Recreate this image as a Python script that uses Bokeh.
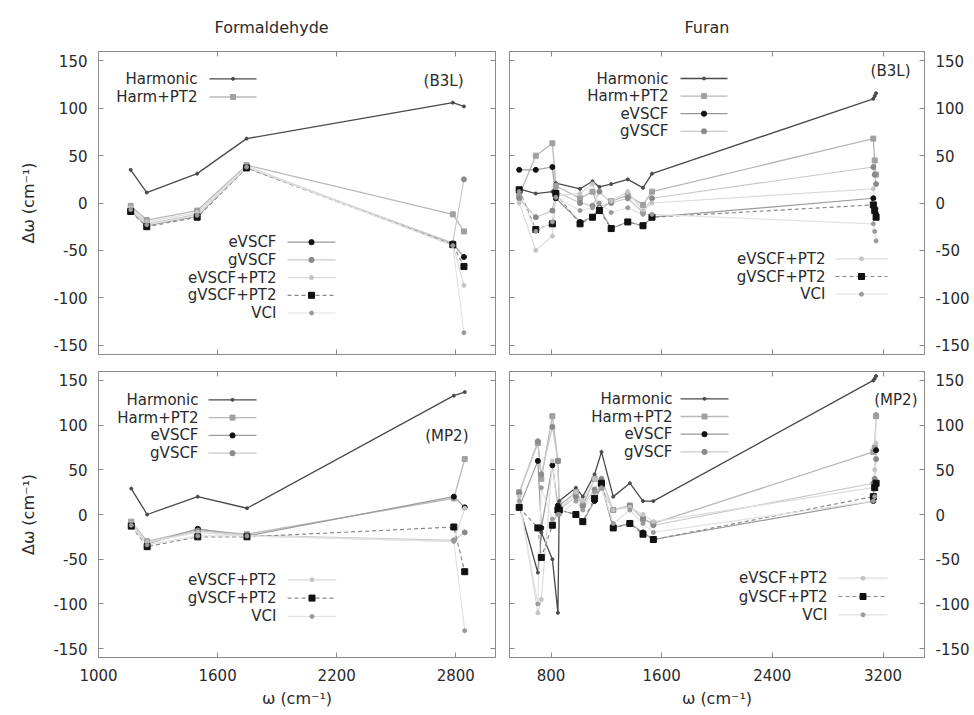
from bokeh.plotting import figure
from bokeh.layouts import column, row
from bokeh.models import Range1d, LinearAxis, FixedTicker, Label, Arrow, BoxAnnotation, Title
from bokeh.embed import file_html
from bokeh.resources import INLINE

FONT = "DejaVu Sans"
TXT = "#2a2a2a"
AX = "#8a8a8a"

methods = ["Harmonic", "Harm+PT2", "eVSCF", "gVSCF", "eVSCF+PT2", "gVSCF+PT2", "VCI"]
y_ticks = [-150, -100, -50, 0, 50, 100, 150]
form_x_ticks = [1000, 1600, 2200, 2800]
furan_x_ticks = [800, 1600, 2400, 3200]

# ---- Formaldehyde, B3LYP ----
form_b3l_x = [1162, 1243, 1497, 1746, 2785, 2841]
form_b3l_harm = [35, 11, 31, 68, 106, 102]
form_b3l_hpt2 = [-3, -18, -8, 40, -12, -30]
form_b3l_evscf = [-8, -24, -14, 38, -43, -57]
form_b3l_gvscf = [-6, -22, -12, 37, -42, 25]
form_b3l_evpt2 = [-5, -20, -10, 39, -44, -87]
form_b3l_gvpt2 = [-9, -25, -15, 37, -44, -67]
form_b3l_vci = [-7, -23, -13, 38, -45, -137]

# ---- Formaldehyde, MP2 ----
form_mp2_x = [1165, 1245, 1500, 1748, 2790, 2845]
form_mp2_harm = [29, 0, 20, 7, 133, 137]
form_mp2_hpt2 = [-8, -30, -17, -22, 18, 62]
form_mp2_evscf = [-12, -33, -16, -24, 20, 8]
form_mp2_gvscf = [-11, -32, -18, -23, -29, -20]
form_mp2_evpt2 = [-10, -31, -20, -24, -30, 7]
form_mp2_gvpt2 = [-13, -36, -25, -25, -14, -64]
form_mp2_vci = [-12, -34, -24, -24, -30, -130]

# ---- Furan, B3LYP ----
furan_b3l_x = [570, 690, 810, 835, 1010, 1100, 1150, 1235, 1355, 1465, 1530, 3130, 3140, 3150]
furan_b3l_harm = [15, 10, 12, 21, 15, 23, 17, 20, 25, 16, 31, 110, 113, 116]
furan_b3l_hpt2 = [8, 50, 63, 18, 5, 12, -8, 2, 8, -2, 12, 68, 45, 30]
furan_b3l_evscf = [35, 35, 38, 5, -20, -15, -5, -27, -20, -24, -15, 5, -5, -12]
furan_b3l_gvscf = [5, -15, -8, 12, 0, -3, 12, 0, 5, -10, 5, 38, 30, 20]
furan_b3l_evpt2 = [0, -50, -35, 8, 10, 20, -5, 2, 12, -8, 0, 15, 0, -5]
furan_b3l_gvpt2 = [14, -28, -22, 10, -22, -15, -8, -27, -20, -24, -15, -2, -8, -15]
furan_b3l_vci = [12, -30, -20, 6, -8, -5, 0, -10, -5, -12, -12, -22, -30, -40]

# ---- Furan, MP2 ----
furan_mp2_x = [570, 705, 730, 810, 850, 860, 980, 1030, 1115, 1165, 1250, 1370, 1465, 1540, 3130, 3140, 3150]
furan_mp2_harm = [10, -65, -20, -50, -110, 15, 30, 20, 45, 70, 20, 35, 15, 15, 150, 152, 155]
furan_mp2_hpt2 = [25, 80, 40, 110, 60, 10, 25, 10, 40, 30, 5, 10, -5, -10, 70, 75, 110]
furan_mp2_evscf = [8, 60, -15, 55, 10, 5, 0, -8, 15, 32, -15, -10, -20, -28, 15, 35, 72]
furan_mp2_gvscf = [24, 82, 45, 98, 60, 5, 20, 10, 28, 40, 5, 10, -5, -12, 35, 40, 62]
furan_mp2_evpt2 = [20, -110, -95, 60, 0, 5, 25, 15, 40, 30, 5, 8, 0, -8, 30, 50, 80]
furan_mp2_gvpt2 = [8, -15, -48, -12, 5, 5, 0, -8, 18, 35, -15, -10, -22, -28, 20, 30, 35]
furan_mp2_vci = [15, -100, 30, -5, 0, 0, 15, 5, 25, 30, -10, 5, -10, -20, 15, 20, 112]

styles = {
    "Harmonic":  dict(color="#4a4a4a", width=1.3, dash="solid", marker="circle", msize=3, mcolor="#4a4a4a"),
    "Harm+PT2":  dict(color="#b8b8b8", width=1.3, dash="solid", marker="square", msize=5, mcolor="#a0a0a0"),
    "eVSCF":     dict(color="#9a9a9a", width=1.2, dash="solid", marker="circle", msize=5, mcolor="#111111"),
    "gVSCF":     dict(color="#c8c8c8", width=1.2, dash="solid", marker="circle", msize=5, mcolor="#8a8a8a"),
    "eVSCF+PT2": dict(color="#dcdcdc", width=1.2, dash="solid", marker="circle", msize=4, mcolor="#c4c4c4"),
    "gVSCF+PT2": dict(color="#8a8a8a", width=1.2, dash="4 3", marker="square", msize=6, mcolor="#111111"),
    "VCI":       dict(color="#e2e2e2", width=1.2, dash="solid", marker="circle", msize=4, mcolor="#9a9a9a"),
}


def make_fig(w, h, bl, br, bt, bb, xr):
    p = figure(width=w, height=h, x_range=Range1d(*xr), y_range=Range1d(-160, 160),
               output_backend="svg", toolbar_location=None,
               x_axis_location=None, y_axis_location=None,
               min_border_left=bl, min_border_right=br, min_border_top=bt, min_border_bottom=bb)
    p.grid.visible = False
    p.outline_line_color = AX
    p.background_fill_color = "white"
    p.border_fill_color = "white"
    return p


def add_axes(p, xticks, labelled, ylabel=None, xlabel=None):
    for side in ["left", "right", "above", "below"]:
        ticks = y_ticks if side in ("left", "right") else xticks
        ax = LinearAxis(ticker=FixedTicker(ticks=ticks))
        ax.major_label_overrides = {t: str(t) for t in ticks}
        ax.major_tick_in = 5
        ax.major_tick_out = 0
        ax.minor_tick_line_color = None
        ax.axis_line_color = AX
        ax.major_tick_line_color = AX
        if side in labelled:
            ax.major_label_text_font = FONT
            ax.major_label_text_font_size = "15px"
            ax.major_label_text_color = TXT
            ax.major_label_standoff = {"left": 11, "right": 11, "below": 11}[side]
            if side == "left" and ylabel:
                ax.axis_label = ylabel
                ax.axis_label_text_font = FONT
                ax.axis_label_text_font_size = "16px"
                ax.axis_label_text_font_style = "normal"
                ax.axis_label_text_color = TXT
                ax.axis_label_standoff = 12
            if side == "below" and xlabel:
                ax.axis_label = xlabel
                ax.axis_label_text_font = FONT
                ax.axis_label_text_font_size = "16px"
                ax.axis_label_text_font_style = "normal"
                ax.axis_label_text_color = TXT
                ax.axis_label_standoff = 5
        else:
            ax.major_label_text_font_size = "0px"
            ax.major_label_text_color = None
            ax.major_label_standoff = 0
        p.add_layout(ax, side)


def draw_series(p, x, series):
    for m, ys in zip(methods, series):
        st = styles[m]
        p.line(x, ys, line_color=st["color"], line_width=st["width"], line_dash=st["dash"])
    for m, ys in zip(methods, series):
        st = styles[m]
        p.scatter(x, ys, marker=st["marker"], size=st["msize"],
                  fill_color=st["mcolor"], line_color=st["mcolor"])


def legend(p, names, text_right, sx0, sx1, rows):
    for name, y in zip(names, rows):
        st = styles[name]
        p.add_layout(Label(x=text_right, y=y, x_units="screen", y_units="screen", text=name,
                           text_align="right", text_baseline="middle", text_font=FONT,
                           text_font_size="15px", text_color=TXT))
        p.add_layout(Arrow(x_start=sx0, y_start=y, x_end=sx1, y_end=y,
                           start_units="screen", end_units="screen", start=None, end=None,
                           line_color=st["color"], line_width=st["width"], line_dash=st["dash"]))
        r = st["msize"] / 2
        mid = (sx0 + sx1) / 2
        p.add_layout(BoxAnnotation(left=mid - r, right=mid + r, bottom=y - r, top=y + r,
                                   left_units="screen", right_units="screen",
                                   top_units="screen", bottom_units="screen",
                                   fill_color=st["mcolor"], fill_alpha=1.0,
                                   line_color=st["mcolor"], line_alpha=1.0,
                                   border_radius=int(round(r)) if st["marker"] == "circle" else 0))


def tag(p, text, x, y):
    p.add_layout(Label(x=x, y=y, x_units="screen", y_units="screen", text=text,
                       text_align="right", text_baseline="middle", text_font=FONT,
                       text_font_size="15px", text_color=TXT))


def heading(p, text, off):
    p.add_layout(Title(text=text, align="left", offset=off, text_font=FONT,
                       text_font_size="16px", text_font_style="normal",
                       text_color=TXT, standoff=30), "above")


YLAB = "Δω (cm⁻¹)"
XLAB = "ω (cm⁻¹)"

# Top-left: Formaldehyde B3L
tl = make_fig(502, 362, 98, 7, 50, 8, (1000, 3000))
add_axes(tl, form_x_ticks, ["left"], ylabel=YLAB)
heading(tl, "Formaldehyde", 116)
draw_series(tl, form_b3l_x, [form_b3l_harm, form_b3l_hpt2, form_b3l_evscf, form_b3l_gvscf,
                             form_b3l_evpt2, form_b3l_gvpt2, form_b3l_vci])
legend(tl, methods[:2], 99, 111, 158, [275.7, 257.5])
legend(tl, methods[2:], 178, 189, 237, [112.3, 94.6, 76.9, 59.2, 41.5])
tag(tl, "(B3L)", 365, 274)

# Top-right: Furan B3L
tr = make_fig(472, 362, 7, 50, 50, 8, (500, 3500))
add_axes(tr, furan_x_ticks, ["right"])
heading(tr, "Furan", 175)
draw_series(tr, furan_b3l_x, [furan_b3l_harm, furan_b3l_hpt2, furan_b3l_evscf, furan_b3l_gvscf,
                              furan_b3l_evpt2, furan_b3l_gvpt2, furan_b3l_vci])
legend(tr, methods[:4], 159, 171, 218, [276, 258.4, 240.8, 223.2])
legend(tr, methods[4:], 316, 326, 378, [95.7, 78, 60.3])
tag(tr, "(B3L)", 401, 284)

# Bottom-left: Formaldehyde MP2
bl = make_fig(502, 353, 98, 7, 9, 58, (1000, 3000))
add_axes(bl, form_x_ticks, ["left", "below"], ylabel=YLAB, xlabel=XLAB)
draw_series(bl, form_mp2_x, [form_mp2_harm, form_mp2_hpt2, form_mp2_evscf, form_mp2_gvscf,
                             form_mp2_evpt2, form_mp2_gvpt2, form_mp2_vci])
legend(bl, methods[:4], 100, 110, 158, [257.7, 239.9, 222.1, 204.3])
legend(bl, methods[4:], 178, 189, 238, [77.7, 59.4, 41.1])
tag(bl, "(MP2)", 370, 222)

# Bottom-right: Furan MP2
br = make_fig(472, 353, 7, 50, 9, 58, (500, 3500))
add_axes(br, furan_x_ticks, ["right", "below"], xlabel=XLAB)
draw_series(br, furan_mp2_x, [furan_mp2_harm, furan_mp2_hpt2, furan_mp2_evscf, furan_mp2_gvscf,
                              furan_mp2_evpt2, furan_mp2_gvpt2, furan_mp2_vci])
legend(br, methods[:4], 163, 171, 219, [258.7, 241, 223.3, 205.6])
legend(br, methods[4:], 318, 329, 378, [79.3, 61, 42.7])
tag(br, "(MP2)", 408, 258)

layout = column(row(tl, tr), row(bl, br))
open("out.html", "w").write(file_html(layout, INLINE))
